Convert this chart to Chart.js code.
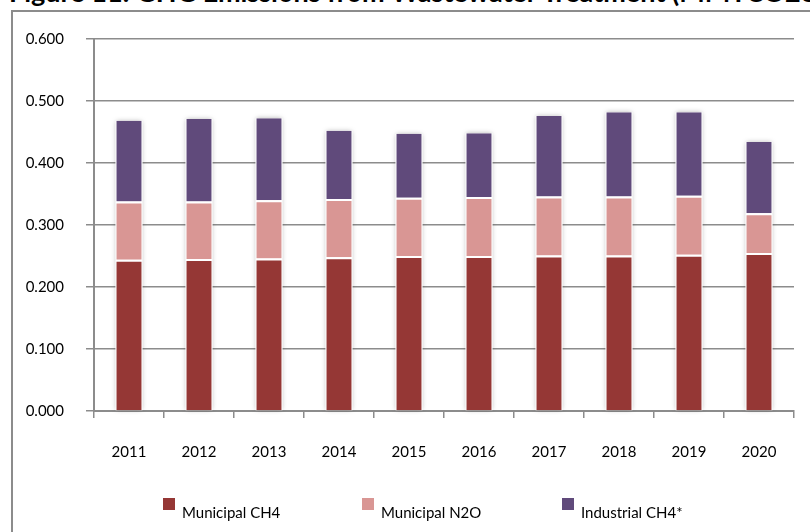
<!DOCTYPE html>
<html>
<head>
<meta charset="utf-8">
<script src="https://cdn.jsdelivr.net/npm/chart.js@4/dist/chart.umd.min.js"></script>
<style>
  html, body { margin: 0; padding: 0; background: #fff; overflow: hidden; }
  #wrap { position: relative; width: 810px; height: 532px; overflow: hidden; }
  #frame { position: absolute; left: 11px; top: 10px; width: 900px; height: 600px; border: 2px solid #8c8c8c; box-sizing: border-box; }
  #title { position: absolute; left: 9px; top: -24px; white-space: nowrap; font-family: Lato, "Liberation Sans", sans-serif; font-weight: bold; font-size: 27px; line-height: 32px; color: #000; }
  canvas { position: absolute; left: 0; top: 0; }
</style>
</head>
<body>
<div id="wrap">
  <div id="frame"></div>
  <div id="title">Figure 11: GHG Emissions from Wastewater Treatment (MMTCO2e)</div>
  <canvas id="c" width="810" height="532"></canvas>
</div>
<script>
const years = ["2011","2012","2013","2014","2015","2016","2017","2018","2019","2020"];
const municipalCH4 = [0.244, 0.245, 0.246, 0.248, 0.250, 0.250, 0.251, 0.251, 0.252, 0.255];
const municipalN2O = [0.094, 0.093, 0.094, 0.094, 0.094, 0.095, 0.095, 0.095, 0.095, 0.064];
const industrialCH4 = [0.130, 0.133, 0.132, 0.110, 0.103, 0.103, 0.130, 0.136, 0.135, 0.115];
const yTicks = [0, 0.1, 0.2, 0.3, 0.4, 0.5, 0.6];

const FONT = "Lato, 'Liberation Sans', sans-serif";
const GRID = "#8c8c8c";

const shadowPlugin = {
  id: "barShadow",
  beforeDatasetsDraw(chart) {
    const ctx = chart.ctx;
    const metas = chart.data.datasets.map((d, i) => chart.getDatasetMeta(i));
    const n = chart.data.labels.length;
    ctx.save();
    ctx.shadowColor = "rgba(0,0,0,0.35)";
    ctx.shadowBlur = 5;
    ctx.fillStyle = "#fff";
    for (let j = 0; j < n; j++) {
      let top = Infinity, bottom = -Infinity, x = 0, w = 0;
      metas.forEach(m => {
        const el = m.data[j];
        top = Math.min(top, el.y, el.base);
        bottom = Math.max(bottom, el.y, el.base);
        x = el.x; w = el.width;
      });
      ctx.fillRect(x - w / 2, top, w, bottom - top);
    }
    ctx.restore();
  }
};

const legendPlugin = {
  id: "customLegend",
  afterDraw(chart) {
    const ctx = chart.ctx;
    const boxX = [163, 362, 562];
    ctx.save();
    ctx.font = "15px " + FONT;
    ctx.textBaseline = "middle";
    ctx.textAlign = "left";
    chart.data.datasets.forEach((ds, i) => {
      ctx.fillStyle = ds.backgroundColor;
      ctx.fillRect(boxX[i], 498, 12, 12);
      ctx.fillStyle = "#000";
      ctx.fillText(ds.label, boxX[i] + 19, 513);
    });
    ctx.restore();
  }
};

new Chart(document.getElementById("c"), {
  type: "bar",
  data: {
    labels: years,
    datasets: [
      { label: "Municipal CH4", data: municipalCH4, backgroundColor: "#953735" },
      { label: "Municipal N2O", data: municipalN2O, backgroundColor: "#D99694" },
      { label: "Industrial CH4*", data: industrialCH4, backgroundColor: "#604A7B",
        borderWidth: { top: 0, left: 1, right: 1, bottom: 0 } }
    ]
  },
  options: {
    responsive: false,
    animation: false,
    devicePixelRatio: 1,
    layout: { padding: { left: 0, top: 39, right: 16, bottom: 0 } },
    datasets: {
      bar: {
        categoryPercentage: 1,
        barPercentage: 0.385,
        borderColor: "#ffffff",
        borderWidth: { top: 2, left: 1, right: 1, bottom: 0 },
        borderSkipped: "bottom"
      }
    },
    plugins: {
      legend: { display: false },
      title: { display: false },
      tooltip: { enabled: false }
    },
    scales: {
      x: {
        stacked: true,
        grid: { display: true, drawOnChartArea: false, drawTicks: true, tickLength: 7, color: GRID, lineWidth: 1.5 },
        border: { display: true, color: GRID, width: 2 },
        ticks: { color: "#000", font: { family: FONT, size: 15 }, padding: 25, maxRotation: 0 },
        afterFit(s) { s.height = 121; }
      },
      y: {
        stacked: true,
        min: 0,
        max: 0.6,
        afterBuildTicks(s) { s.ticks = yTicks.map(v => ({ value: v })); },
        grid: { color: GRID, lineWidth: 1.5, tickLength: 8, drawTicks: true },
        border: { display: true, color: GRID, width: 2 },
        ticks: {
          color: "#000",
          font: { family: FONT, size: 15 },
          padding: 22,
          callback: v => Number(v).toFixed(3)
        },
        afterFit(s) { s.width = 94; }
      }
    }
  },
  plugins: [shadowPlugin, legendPlugin]
});
</script>
</body>
</html>
